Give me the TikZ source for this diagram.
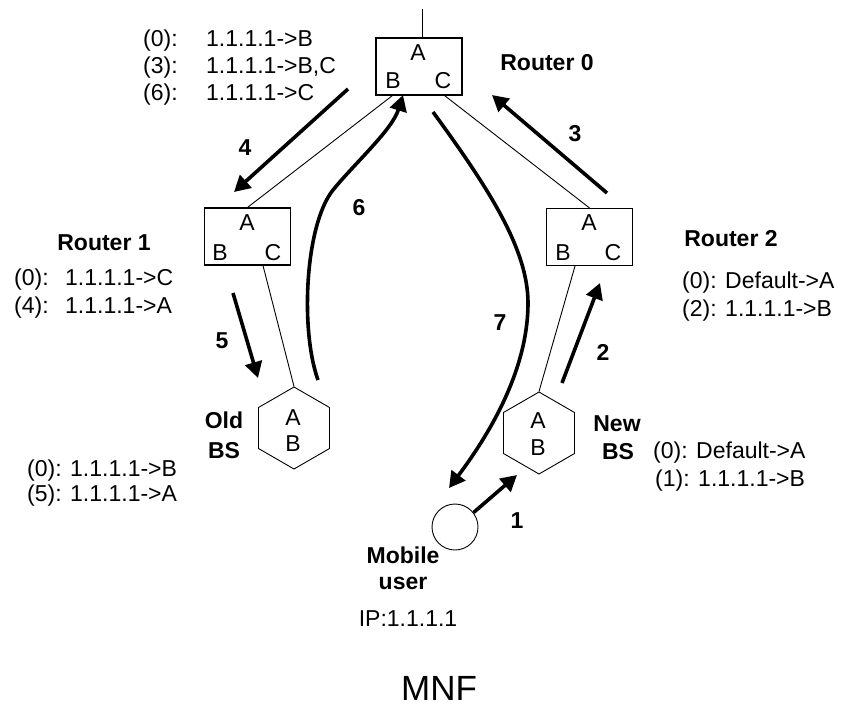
\documentclass[tikz,border=0pt]{standalone}
\usepackage{fontspec}
\setmainfont{Liberation Sans}
\usetikzlibrary{arrows.meta,shapes.geometric,calc}
\begin{document}
\begin{tikzpicture}[x=1pt,y=-1pt,
  txt/.style={inner sep=0pt, text height=16.5pt, text depth=0pt, font=\fontsize{23}{27}\selectfont},
  bld/.style={inner sep=0pt, text height=16.5pt, text depth=0pt, font=\fontsize{23}{27}\selectfont\bfseries},
  rbox/.style={draw, line width=1.1pt, minimum width=86pt, minimum height=57pt, inner sep=0pt},
  hexa/.style={draw, line width=0.9pt, regular polygon, regular polygon sides=6, shape border rotate=30, minimum size=82pt, inner sep=0pt},
  link/.style={line width=0.9pt},
  flow/.style={line width=3.6pt, -{Triangle[length=16pt,width=17pt]}},
]
\useasboundingbox (0,0) rectangle (842,707);

% network elements
\node[rbox] (r0) at (419,66.5) {};
\node[rbox] (r1) at (247.5,236.5) {};
\node[rbox] (r2) at (589.5,237) {};
\node[hexa] (obs) at (294,428) {};
\node[hexa] (nbs) at (539,433) {};
\node[draw, circle, minimum size=46pt, inner sep=0pt, line width=0.9pt] (mu) at (455,527) {};
\coordinate (top) at (422,9);

% port labels
\node[txt] (r0a) at (418,52) {A};
\node[txt] (r0b) at (393,80) {B};
\node[txt] (r0c) at (443,80) {C};
\node[txt] (r1a) at (247,222) {A};
\node[txt] (r1b) at (220,252) {B};
\node[txt] (r1c) at (273,252) {C};
\node[txt] (r2a) at (589,222) {A};
\node[txt] (r2b) at (563,252) {B};
\node[txt] (r2c) at (613,252) {C};
\node[txt] (obsa) at (293,417) {A};
\node[txt] (obsb) at (293,443) {B};
\node[txt] (nbsa) at (538,420) {A};
\node[txt] (nbsb) at (538,447) {B};

% links
\draw[link] (top) -- (top |- r0.north);
\draw[link] ($(r0.south west)+(17,0)$) -- (r1.north);
\draw[link] ($(r0.south east)+(-18,0)$) -- (r2.north);
\draw[link] ($(r1.south)+(15.5,0)$) -- (obs.north);
\draw[link] ($(r2.south)+(-14.5,0)$) -- (nbs.north);

% names
\node[bld] (n0) at (547,62) {Router 0};
\node[bld] (n1) at (104,242) {Router 1};
\node[bld] (n2) at (731,238) {Router 2};
\node[bld] (nold1) at (224,420) {Old};
\node[bld] (nold2) at (224,450) {BS};
\node[bld] (nnew1) at (617,423) {New};
\node[bld] (nnew2) at (618,451) {BS};
\node[bld] (nmu1) at (403,555) {Mobile};
\node[bld] (nmu2) at (403,581) {user};
\node[txt] (ip) at (408,618) {IP:1.1.1.1};
\node[inner sep=0pt, text height=25pt, text depth=0pt, font=\fontsize{35}{40}\selectfont] (mnf) at (439,688) {MNF};

% tables
\node[txt,anchor=west] (t0a) at (143,38) {(0):};
\node[txt,anchor=west] (t0b) at (206,38) {1.1.1.1->B};
\node[txt,anchor=west] (t3a) at (143,65) {(3):};
\node[txt,anchor=west] (t3b) at (206,65) {1.1.1.1->B,C};
\node[txt,anchor=west] (t6a) at (143,92) {(6):};
\node[txt,anchor=west] (t6b) at (206,92) {1.1.1.1->C};

\node[txt,anchor=west] (u0a) at (14,277) {(0):};
\node[txt,anchor=west] (u0b) at (65,277) {1.1.1.1->C};
\node[txt,anchor=west] (u4a) at (14,305) {(4):};
\node[txt,anchor=west] (u4b) at (65,305) {1.1.1.1->A};

\node[txt,anchor=west] (v0) at (682,280) {(0): Default->A};
\node[txt,anchor=west] (v2) at (682,308) {(2): 1.1.1.1->B};

\node[txt,anchor=west] (w0) at (653,450) {(0): Default->A};
\node[txt,anchor=west] (w1) at (655,478) {(1): 1.1.1.1->B};

\node[txt,anchor=west] (o0) at (27,468) {(0): 1.1.1.1->B};
\node[txt,anchor=west] (o5) at (27,493) {(5): 1.1.1.1->A};

% flow arrows
\coordinate (f1e) at (517,475);
\coordinate (f2s) at (562,383);
\coordinate (f2e) at (600,283);
\coordinate (f3s) at (607,193);
\coordinate (f3e) at (492,95);
\coordinate (f4s) at (348,89);
\coordinate (f4e) at (234,192);
\coordinate (f5s) at (233,293);
\coordinate (f5e) at (258,378);
\coordinate (f6s) at (318,380);
\coordinate (f6m) at (333,190);
\coordinate (f6e) at (403,95);
\coordinate (f7s) at (433,112);
\coordinate (f7m) at (528,303);
\coordinate (f7e) at (449,488);

\draw[flow] (mu.38) -- (f1e);
\draw[flow] (f2s) -- (f2e);
\draw[flow] (f3s) -- (f3e);
\draw[flow] (f4s) -- (f4e);
\draw[flow] (f5s) -- (f5e);
\draw[flow] (f6s) .. controls (300,330) and (305,225) .. (f6m) .. controls (355,163) and (392,130) .. (f6e);
\draw[flow] (f7s) .. controls (490,190) and (528,250) .. (f7m) .. controls (528,360) and (500,420) .. (f7e);

\node[bld] (l1) at (517,520) {1};
\node[bld] (l2) at (603,352) {2};
\node[bld] (l3) at (575,133) {3};
\node[bld] (l4) at (245,147) {4};
\node[bld] (l5) at (222,340) {5};
\node[bld] (l6) at (359,207) {6};
\node[bld] (l7) at (500,322) {7};
\end{tikzpicture}
\end{document}
